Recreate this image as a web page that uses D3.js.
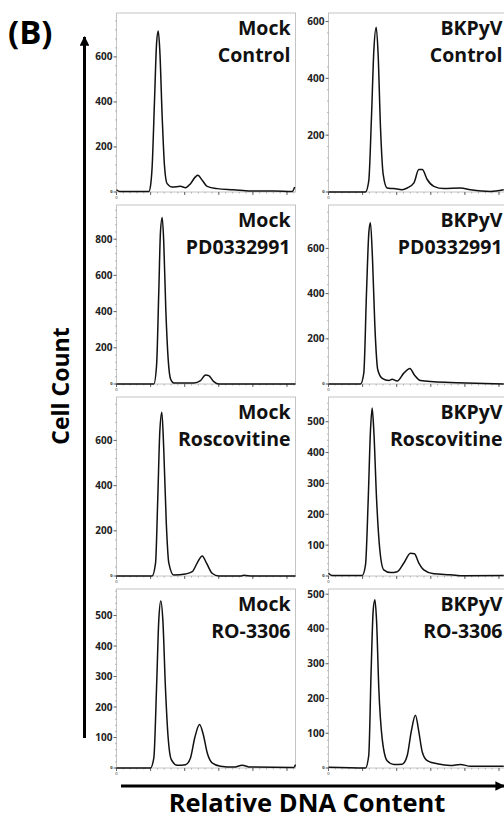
<!DOCTYPE html>
<html>
<head>
<meta charset="utf-8">
<script src="https://cdn.jsdelivr.net/npm/d3@7"></script>
<style>
  body { margin: 0; background: #fff; }
  svg { display: block; font-family: "Open Sans", sans-serif; }
</style>
</head>
<body>
<svg id="chart" width="504" height="820"></svg>
<script>
// histogram traces (x = relative DNA channel, y = cell count)
const mockControlX = [0, 20, 190, 200, 209, 223, 235, 245, 254, 268, 282, 297, 327, 375, 405, 434, 463, 477, 503, 532, 591, 686, 786, 921, 1031, 1045];
const mockControlY = [10, 2, 2, 30, 111, 407, 659, 715, 629, 333, 111, 37, 22, 25, 19, 37, 67, 74, 52, 25, 15, 10, 4, 4, 2, 22];
const bkControlX = [0, 217, 236, 252, 266, 280, 291, 305, 321, 344, 383, 432, 462, 501, 530, 550, 579, 618, 676, 774, 833, 950, 1028];
const bkControlY = [0, 0, 38, 262, 498, 580, 486, 227, 61, 14, 12, 8, 14, 32, 79, 79, 44, 20, 12, 14, 8, 2, 8];
const mockPdX = [0, 219, 235, 248, 258, 268, 277, 289, 303, 317, 336, 454, 493, 522, 541, 571, 600, 1050];
const mockPdY = [0, 0, 102, 509, 843, 920, 787, 417, 139, 28, 6, 6, 19, 50, 46, 13, 0, 0];
const bkPdX = [0, 188, 207, 223, 237, 246, 258, 272, 289, 315, 354, 373, 403, 442, 477, 504, 540, 618, 755, 1028];
const bkPdY = [0, 0, 48, 406, 674, 714, 555, 256, 63, 25, 15, 21, 13, 48, 69, 40, 15, 10, 6, 0];
const mockRosX = [0, 209, 229, 242, 254, 266, 277, 292, 307, 336, 405, 444, 473, 503, 528, 561, 600, 727, 747, 796, 1050];
const mockRosY = [0, 0, 57, 340, 638, 725, 564, 236, 57, 4, 9, 19, 57, 89, 57, 12, 0, 0, 3, 0, 0];
const bkRosX = [0, 20, 198, 217, 233, 246, 256, 266, 282, 301, 324, 364, 403, 442, 481, 504, 530, 559, 618, 716, 794, 1028];
const bkRosY = [9, 2, 2, 36, 249, 468, 544, 468, 249, 85, 20, 11, 14, 42, 74, 72, 42, 20, 7, 4, 1, 2];
const mockRoX = [0, 199, 219, 235, 248, 260, 272, 287, 303, 321, 356, 405, 434, 459, 487, 509, 532, 561, 610, 688, 737, 786, 1040, 1050];
const mockRoY = [0, 0, 33, 264, 484, 548, 484, 264, 99, 28, 9, 11, 33, 99, 143, 110, 50, 17, 6, 3, 9, 3, 2, 11];
const bkRoX = [0, 217, 236, 250, 262, 272, 282, 295, 315, 344, 383, 432, 462, 485, 510, 530, 550, 579, 638, 716, 774, 833, 1028];
const bkRoY = [2, 0, 36, 278, 452, 484, 423, 230, 84, 21, 10, 11, 36, 104, 152, 104, 46, 21, 12, 7, 10, 5, 5];

const infections = ["Mock", "BKPyV"];
const treatments = ["Control", "PD0332991", "Roscovitine", "RO-3306"];
// y-axis top and tick step for each panel, row by row, mock then BKPyV
const yMax = [795, 630, 989, 792, 792, 580, 587, 515];
const yStep = [200, 200, 200, 200, 200, 100, 100, 100];
const traces = [
  [mockControlX, mockControlY], [bkControlX, bkControlY],
  [mockPdX, mockPdY], [bkPdX, bkPdY],
  [mockRosX, mockRosY], [bkRosX, bkRosY],
  [mockRoX, mockRoY], [bkRoX, bkRoY]
];
const xMax = 1050;
const xStep = 200;

const svg = d3.select("#chart");
const panelW = 179, panelH = 179;
const colLeft = [116.5, 328.5];
const rowTop = [13, 205, 397, 589];

const x = d3.scaleLinear([0, xMax], [0, panelW]);

traces.forEach((t, i) => {
  const row = Math.floor(i / 2), col = i % 2;
  const g = svg.append("g").attr("transform", `translate(${colLeft[col]},${rowTop[row]})`);
  const y = d3.scaleLinear([0, yMax[i]], [panelH, 0]);
  const majors = d3.range(0, yMax[i], yStep[i]);
  const minors = d3.range(0, yMax[i], yStep[i] / 5);

  g.append("rect")
    .attr("width", panelW).attr("height", panelH)
    .attr("fill", "none").attr("stroke", "#c4c4c4");

  // y ticks
  g.selectAll(".ymin").data(minors).join("line")
    .attr("x1", -1.5).attr("x2", 0)
    .attr("y1", d => y(d)).attr("y2", d => y(d))
    .attr("stroke", "#999").attr("stroke-width", 0.7);
  g.selectAll(".ymaj").data(majors).join("line")
    .attr("x1", -3).attr("x2", 0)
    .attr("y1", d => y(d)).attr("y2", d => y(d))
    .attr("stroke", "#666");
  g.selectAll(".ylab").data(majors).join("text")
    .attr("x", -4).attr("y", d => y(d))
    .attr("dy", "0.35em")
    .attr("text-anchor", "end")
    .attr("font-size", d => d === 0 ? 4 : 10)
    .attr("font-weight", 700)
    .attr("fill", "#222")
    .text(d => d);

  // x ticks
  const xMinors = d3.range(0, xMax + 1, xStep / 5);
  const xMajors = d3.range(0, xMax + 1, xStep);
  g.selectAll(".xmin").data(xMinors).join("line")
    .attr("x1", d => x(d)).attr("x2", d => x(d))
    .attr("y1", panelH).attr("y2", panelH + 1.5)
    .attr("stroke", "#999").attr("stroke-width", 0.7);
  g.selectAll(".xmaj").data(xMajors).join("line")
    .attr("x1", d => x(d)).attr("x2", d => x(d))
    .attr("y1", panelH).attr("y2", panelH + 3)
    .attr("stroke", "#666");
  g.append("text")
    .attr("x", x(0)).attr("y", panelH + 7)
    .attr("text-anchor", "middle")
    .attr("font-size", 4).attr("fill", "#222")
    .text("0");

  const pts = t[0].map((v, k) => [v, t[1][k]]);
  g.append("path")
    .datum(pts)
    .attr("fill", "none")
    .attr("stroke", "#111")
    .attr("stroke-width", 1.5)
    .attr("stroke-linejoin", "round")
    .attr("d", d3.line()
      .x(d => x(d[0]))
      .y(d => y(d[1]))
      .curve(d3.curveMonotoneX));

  const lab = g.append("text")
    .attr("text-anchor", "end")
    .attr("font-size", 19.5)
    .attr("font-weight", 700)
    .attr("fill", "#111");
  lab.append("tspan").attr("x", panelW - 5).attr("y", 22).text(infections[col]);
  lab.append("tspan").attr("x", panelW - 5).attr("y", 49).text(treatments[row]);
});

// axis arrows
svg.append("defs").append("marker")
  .attr("id", "arrow")
  .attr("viewBox", "0 0 10 10")
  .attr("refX", 9).attr("refY", 5)
  .attr("markerWidth", 3.2).attr("markerHeight", 3.2)
  .attr("orient", "auto")
  .append("path").attr("d", "M0,0 L10,5 L0,10 Z").attr("fill", "#000");

svg.append("line")
  .attr("x1", 84.5).attr("y1", 738).attr("x2", 84.5).attr("y2", 37)
  .attr("stroke", "#000").attr("stroke-width", 3)
  .attr("marker-end", "url(#arrow)");
svg.append("line")
  .attr("x1", 121).attr("y1", 786).attr("x2", 504).attr("y2", 786)
  .attr("stroke", "#000").attr("stroke-width", 3)
  .attr("marker-end", "url(#arrow)");

svg.append("text")
  .attr("transform", "translate(69,386) rotate(-90)")
  .attr("text-anchor", "middle")
  .attr("font-size", 23).attr("font-weight", 700)
  .text("Cell Count");

svg.append("text")
  .attr("x", 307).attr("y", 812)
  .attr("text-anchor", "middle")
  .attr("font-size", 25.5).attr("font-weight", 700)
  .text("Relative DNA Content");

svg.append("text")
  .attr("x", 8).attr("y", 44)
  .attr("font-size", 33).attr("font-weight", 700)
  .text("(B)");
</script>
</body>
</html>
